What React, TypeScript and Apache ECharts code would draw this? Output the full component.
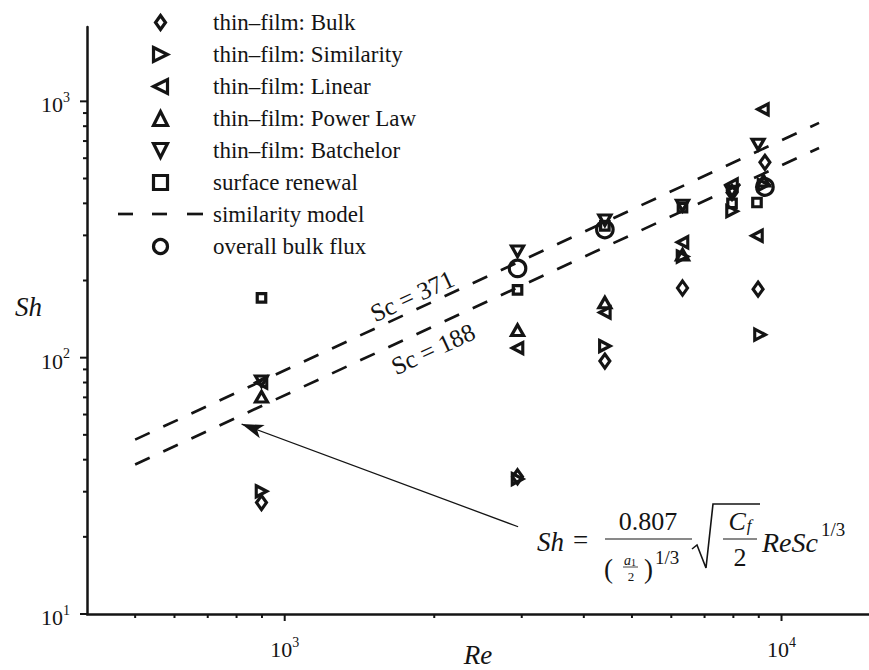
import React, { useEffect, useRef } from 'react';
import * as echarts from 'echarts';

const INK = '#141414';
const SERIF = 'Liberation Serif';

// ---- axes ----
const RE_MIN = 400;
const RE_MAX = 15000;
const SH_MIN = 10;
const SH_MAX = 1950;
const X_MAJOR_TICKS = [1000, 10000];
const X_MINOR_TICKS = [500, 600, 700, 800, 900, 2000, 3000, 4000, 5000, 6000, 7000, 8000, 9000];
const Y_MAJOR_TICKS = [10, 100, 1000];
const Y_MINOR_TICKS = [20, 30, 40, 50, 60, 70, 80, 90, 200, 300, 400, 500, 600, 700, 800, 900];

// ---- data (Re, Sh) ----
const bulkRe = [898, 2942, 4410, 6320, 7950, 9260, 8970];
const bulkSh = [27.2, 34.3, 97, 187, 441, 578, 185];
const similarityRe = [898, 2942, 4410, 6320, 7950, 9200, 9050];
const similaritySh = [30.1, 33.6, 111, 248, 373, 472, 123];
const linearRe = [898, 2942, 4410, 6320, 7950, 9175, 8925];
const linearSh = [80, 109, 150, 282, 474, 931, 299];
const powerLawRe = [898, 2942, 4410, 6320, 9200];
const powerLawSh = [70.4, 128, 164, 252, 490];
const batchelorRe = [898, 2942, 4410, 6320, 7950, 8970];
const batchelorSh = [81, 260, 344, 392, 445, 679];
const renewalRe = [898, 2942, 4410, 6320, 7950, 8925];
const renewalSh = [171, 184, 327, 385, 400, 403];
const overallRe = [2942, 4410, 9260];
const overallSh = [223, 316, 463];

// similarity model lines
const modelRe = [500, 11900];
const modelSc371 = [47.9, 824];
const modelSc188 = [38.3, 658];

// annotation arrow (tail, head)
const arrowTail = [2950, 21.9];
const arrowHead = [819, 55.1];

const NAMES = [
  'thin–film: Bulk',
  'thin–film: Similarity',
  'thin–film: Linear',
  'thin–film: Power Law',
  'thin–film: Batchelor',
  'surface renewal',
  'similarity model',
  'overall bulk flux',
];

const SYM_UP = 'path://M5,0L10,10L0,10Z';
const SYM_DOWN = 'path://M0,0L10,0L5,10Z';
const SYM_LEFT = 'path://M0,5L10,0L10,10Z';
const SYM_RIGHT = 'path://M0,0L10,5L0,10Z';
const SYM_DIAMOND = 'path://M5,0L10,7L5,14L0,7Z';
const SYM_SQUARE = 'path://M0,0L10,0L10,10L0,10Z';

const pairs = (xs: number[], ys: number[]) => xs.map((x, i) => [x, ys[i]]);

const scatter = (name: string, xs: number[], ys: number[], symbol: string, size: any) => ({
  name,
  type: 'scatter',
  symbol,
  symbolSize: size,
  data: pairs(xs, ys),
  itemStyle: { color: 'rgba(0,0,0,0)', borderColor: INK, borderWidth: 3.2, opacity: 1 },
  emphasis: { disabled: true },
  z: 3,
});

const isPow10 = (v: number) => Math.abs(Math.log10(v) - Math.round(Math.log10(v))) < 1e-6;

const tickLabel = {
  fontFamily: SERIF,
  color: INK,
  formatter: (v: number) => (isPow10(v) ? `{b|10}{s|${Math.round(Math.log10(v))}}` : ''),
  rich: {
    b: { fontFamily: SERIF, fontSize: 22, color: INK, lineHeight: 22, padding: [7, 0, 0, 0] },
    s: { fontFamily: SERIF, fontSize: 14, color: INK, lineHeight: 14, verticalAlign: 'top' },
  },
};

const t = (text: string, x: number, y: number, size: number, extra: any = {}, rotation = 0) => ({
  type: 'text',
  x,
  y,
  rotation,
  z: 20,
  style: {
    text,
    fontFamily: SERIF,
    fontSize: size,
    fill: INK,
    align: 'left',
    verticalAlign: 'middle',
    ...extra,
  },
});

const seg = (x1: number, y1: number, x2: number, y2: number, w = 1.2) => ({
  type: 'line',
  z: 20,
  shape: { x1, y1, x2, y2 },
  style: { stroke: INK, lineWidth: w },
});

const LINE_ANGLE = 0.433; // slope of the model lines on screen (rad)

const option: any = {
  animation: false,
  backgroundColor: '#ffffff',
  textStyle: { fontFamily: SERIF, color: INK },
  grid: { left: 87, right: 0, top: 27, bottom: 56, containLabel: false, outerBoundsMode: 'none' },
  legend: {
    orient: 'vertical',
    left: 118,
    top: 11,
    padding: 0,
    itemWidth: 85,
    itemHeight: 14,
    itemGap: 9,
    selectedMode: false,
    itemStyle: { borderWidth: 3.2, opacity: 1 },
    textStyle: { fontFamily: SERIF, fontSize: 23, color: INK, lineHeight: 23, padding: [0, 0, 0, 5] },
    data: NAMES.map((n) =>
      n === 'similarity model'
        ? { name: n, icon: 'rect', itemStyle: { opacity: 0 }, lineStyle: { opacity: 0 } }
        : { name: n }
    ),
  },
  xAxis: {
    type: 'log',
    logBase: 10,
    min: RE_MIN,
    max: RE_MAX,
    name: 'Re',
    nameLocation: 'middle',
    nameGap: 27,
    nameMoveOverlap: false,
    nameTextStyle: { fontFamily: SERIF, fontStyle: 'italic', fontSize: 27, color: INK, verticalAlign: 'top' },
    axisLine: { show: true, lineStyle: { color: INK, width: 2.5 } },
    axisTick: { show: false },
    minorTick: { show: false },
    splitLine: { show: false },
    axisLabel: { ...tickLabel, margin: 21 },
  },
  yAxis: {
    type: 'log',
    logBase: 10,
    min: SH_MIN,
    max: SH_MAX,
    name: 'Sh',
    nameLocation: 'middle',
    nameRotate: 0,
    nameGap: 45,
    nameMoveOverlap: false,
    nameTextStyle: {
      fontFamily: SERIF,
      fontStyle: 'italic',
      fontSize: 27,
      color: INK,
      align: 'right',
      verticalAlign: 'bottom',
    },
    axisLine: { show: true, lineStyle: { color: INK, width: 2.5 } },
    axisTick: { show: false },
    minorTick: { show: false },
    splitLine: { show: false },
    axisLabel: { ...tickLabel, margin: 17 },
  },
  series: [
    {
      name: 'similarity model',
      type: 'line',
      data: pairs(modelRe, modelSc371),
      symbol: 'none',
      lineStyle: { color: INK, width: 2.7, type: [16, 15], cap: 'butt' },
      itemStyle: { color: INK },
      emphasis: { disabled: true },
      z: 2,
    },
    {
      name: 'similarity model',
      type: 'line',
      data: pairs(modelRe, modelSc188),
      symbol: 'none',
      lineStyle: { color: INK, width: 2.7, type: [16, 15], cap: 'butt' },
      itemStyle: { color: INK },
      emphasis: { disabled: true },
      z: 2,
      markLine: {
        silent: true,
        animation: false,
        symbol: ['none', 'arrow'],
        symbolSize: [10.5, 22],
        label: { show: false },
        lineStyle: { color: INK, width: 1.3, type: 'solid', opacity: 1 },
        itemStyle: { color: INK },
        emphasis: { disabled: true },
        data: [[{ coord: arrowTail }, { coord: arrowHead }]],
      },
    },
    scatter(NAMES[0], bulkRe, bulkSh, SYM_DIAMOND, [10, 14]),
    scatter(NAMES[1], similarityRe, similaritySh, SYM_RIGHT, [10.5, 11]),
    scatter(NAMES[2], linearRe, linearSh, SYM_LEFT, [10.5, 11]),
    scatter(NAMES[3], powerLawRe, powerLawSh, SYM_UP, [12, 10.5]),
    scatter(NAMES[4], batchelorRe, batchelorSh, SYM_DOWN, [12, 10.5]),
    scatter(NAMES[5], renewalRe, renewalSh, SYM_SQUARE, [8.5, 8.5]),
    scatter(NAMES[7], overallRe, overallSh, 'circle', 16.5),
    {
      name: 'x ticks',
      type: 'custom',
      silent: true,
      z: 5,
      clip: false,
      encode: { x: 0, y: 1 },
      data: [
        ...X_MAJOR_TICKS.map((v) => [v, SH_MIN, 1]),
        ...X_MINOR_TICKS.map((v) => [v, SH_MIN, 0]),
      ],
      renderItem: (_p: any, api: any) => {
        const p = api.coord([api.value(0), api.value(1)]);
        const len = api.value(2) ? 7 : 4;
        return {
          type: 'line',
          shape: { x1: p[0], y1: p[1], x2: p[0], y2: p[1] + len },
          style: { stroke: INK, lineWidth: 2 },
        };
      },
    },
    {
      name: 'y ticks',
      type: 'custom',
      silent: true,
      z: 5,
      clip: false,
      encode: { x: 0, y: 1 },
      data: [
        ...Y_MAJOR_TICKS.map((v) => [RE_MIN, v, 1]),
        ...Y_MINOR_TICKS.map((v) => [RE_MIN, v, 0]),
      ],
      renderItem: (_p: any, api: any) => {
        const p = api.coord([api.value(0), api.value(1)]);
        const len = api.value(2) ? 7 : 4;
        return {
          type: 'line',
          shape: { x1: p[0], y1: p[1], x2: p[0] - len, y2: p[1] },
          style: { stroke: INK, lineWidth: 2 },
        };
      },
    },
  ],
  graphic: [
    // dashed sample for the "similarity model" legend entry
    seg(118, 214, 133, 214, 2.7),
    seg(152, 214, 167, 214, 2.7),
    seg(187, 214, 203, 214, 2.7),
    // Sc labels along the model lines
    t('Sc = 371', 412, 296, 25, { align: 'center' }, LINE_ANGLE),
    t('Sc = 188', 433, 349, 25, { align: 'center' }, LINE_ANGLE),
    // formula
    {
      type: 'group',
      z: 20,
      children: [
        t('Sh', 537, 542, 27, { fontStyle: 'italic' }),
        t('=', 573, 540, 27),
        t('0.807', 648, 521, 26, { align: 'center' }),
        seg(605, 539, 692, 539),
        t('(', 604, 569, 27),
        {
          type: 'text',
          x: 630,
          y: 560,
          z: 20,
          style: {
            text: '{i|a}{s|1}',
            align: 'center',
            verticalAlign: 'middle',
            fill: INK,
            rich: {
              i: { fontFamily: SERIF, fontStyle: 'italic', fontSize: 14, fill: INK, lineHeight: 14 },
              s: { fontFamily: SERIF, fontSize: 10, fill: INK, lineHeight: 10, verticalAlign: 'bottom' },
            },
          },
        },
        seg(623, 567, 638, 567, 0.8),
        t('2', 631, 576, 13, { align: 'center' }),
        t(')', 644, 569, 27),
        t('1/3', 655, 557, 19),
        {
          type: 'polyline',
          z: 20,
          shape: { points: [[692, 549], [697, 545], [706, 568], [713, 504], [760, 504]] },
          style: { stroke: INK, fill: 'none', lineWidth: 1.6 },
        },
        {
          type: 'text',
          x: 740,
          y: 521,
          z: 20,
          style: {
            text: '{i|C}{s|f}',
            align: 'center',
            verticalAlign: 'middle',
            fill: INK,
            rich: {
              i: { fontFamily: SERIF, fontStyle: 'italic', fontSize: 26, fill: INK, lineHeight: 26 },
              s: { fontFamily: SERIF, fontStyle: 'italic', fontSize: 17, fill: INK, lineHeight: 17, verticalAlign: 'bottom', padding: [0, 0, 0, 1] },
            },
          },
        },
        seg(723, 539, 757, 539),
        t('2', 740, 557, 26, { align: 'center' }),
        t('ReSc', 762, 542, 28, { fontStyle: 'italic' }),
        t('1/3', 821, 529, 19),
      ],
    },
  ],
};

export default function App() {
  const ref = useRef<HTMLDivElement>(null);
  useEffect(() => {
    if (!ref.current) return;
    const chart = echarts.init(ref.current, null, { renderer: 'svg' });
    chart.setOption(option);
    return () => chart.dispose();
  }, []);
  return (
    <div
      ref={ref}
      style={{ position: 'absolute', left: 0, top: 0, width: 869, height: 670, background: '#fff' }}
    />
  );
}
